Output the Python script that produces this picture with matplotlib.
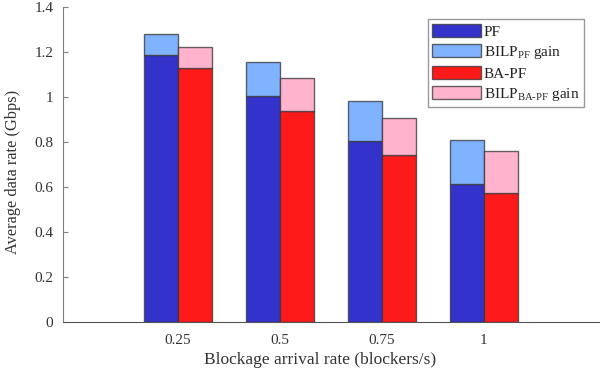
import numpy as np
import matplotlib
matplotlib.use("Agg")
import matplotlib.pyplot as plt

plt.rcParams['font.family'] = ['Liberation Serif', 'DejaVu Serif']
plt.rcParams['mathtext.fontset'] = 'custom'
plt.rcParams['mathtext.rm'] = 'Liberation Serif'
plt.rcParams['mathtext.it'] = 'Liberation Serif'

# blockage arrival rates (blockers/s)
rates = ['0.25', '0.5', '0.75', '1']

# average data rate (Gbps)
pf = [1.184, 1.002, 0.803, 0.613]
bilp_pf_gain = [0.095, 0.152, 0.178, 0.195]
ba_pf = [1.129, 0.935, 0.740, 0.571]
bilp_ba_gain = [0.093, 0.147, 0.167, 0.189]

c_pf = '#3333cc'
c_pf_gain = '#80b3ff'
c_ba = '#ff1a1a'
c_ba_gain = '#ffb3cc'
edge = (0.2, 0.2, 0.2, 0.75)
txt = '#333333'

x = np.arange(1, len(rates) + 1)
w = 1 / 3

fig = plt.figure(figsize=(6.05, 3.79), dpi=100)
ax = fig.add_axes([0.104, 0.151, 0.886, 0.8313])

ax.bar(x - w / 2, pf, w, color=c_pf, edgecolor=edge, linewidth=1, label='PF')
ax.bar(x - w / 2, bilp_pf_gain, w, bottom=pf, color=c_pf_gain, edgecolor=edge,
       linewidth=1, label=r'BILP$_{\mathrm{PF}}$ gain')
ax.bar(x + w / 2, ba_pf, w, color=c_ba, edgecolor=edge, linewidth=1, label='BA-PF')
ax.bar(x + w / 2, bilp_ba_gain, w, bottom=ba_pf, color=c_ba_gain, edgecolor=edge,
       linewidth=1, label=r'BILP$_{\mathrm{BA\text{-}PF}}$ gain')

ax.set_xlim(-0.127, 5.127)
ax.set_ylim(0, 1.4)
ax.set_xticks(x)
ax.set_xticklabels(rates)
ax.set_yticks(np.arange(0, 1.41, 0.2))
ax.set_yticklabels(['0', '0.2', '0.4', '0.6', '0.8', '1', '1.2', '1.4'])

ax.spines['top'].set_visible(False)
ax.spines['right'].set_visible(False)
ax.spines['left'].set_color('#808080')
ax.spines['bottom'].set_color('#555555')
ax.tick_params(axis='y', direction='in', length=3.5, width=0.8, color='#808080',
               pad=7, labelsize=11, labelcolor=txt)
ax.tick_params(axis='x', length=0, pad=9, labelsize=11, labelcolor=txt)

ax.set_xlabel('Blockage arrival rate (blockers/s)', fontsize=12.5, color=txt)
ax.xaxis.set_label_coords(0.479, -0.095)
ax.set_ylabel('Average data rate (Gbps)', fontsize=11.8, color=txt)
ax.yaxis.set_label_coords(-0.078, 0.475)

leg = ax.legend(loc='upper right', bbox_to_anchor=(0.972, 0.96), borderaxespad=0,
                fancybox=False, fontsize=11, handlelength=3.2, handleheight=0.95,
                labelspacing=0.33, handletextpad=0.15, borderpad=0.3)
leg.get_frame().set_edgecolor('#808080')
leg.get_frame().set_linewidth(1)
for t in leg.get_texts():
    t.set_color('#222222')

fig.savefig('out.png', dpi=100)
